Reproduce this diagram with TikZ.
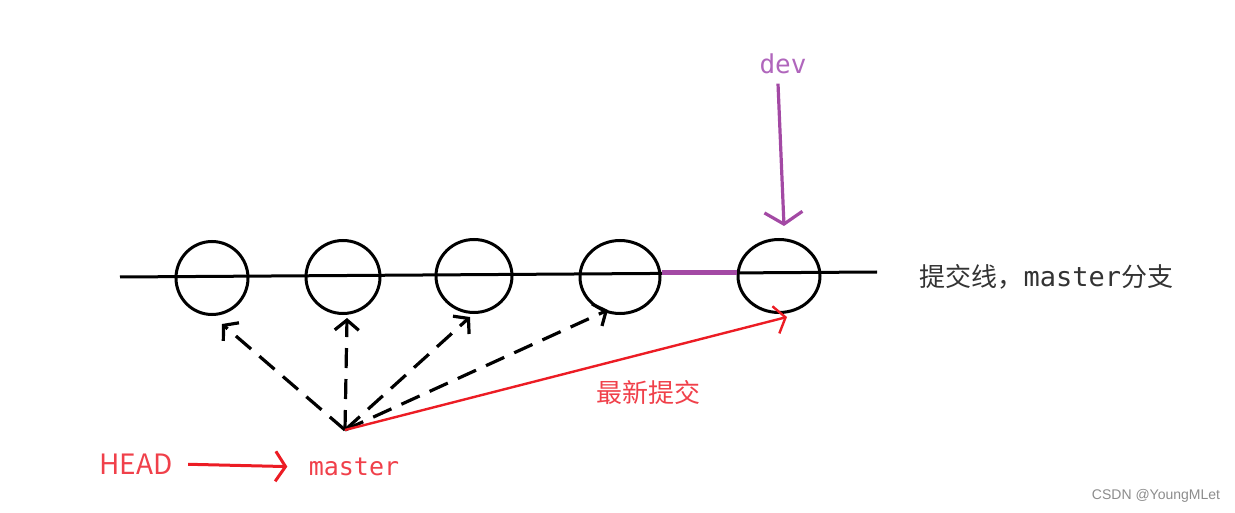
\documentclass[tikz,border=0pt]{standalone}
\usepackage{fontspec}
\setmainfont{Noto Sans CJK SC}
\setmonofont{DejaVu Sans Mono}
\newfontfamily\wmfont{Liberation Sans}
\usetikzlibrary{arrows.meta,shapes.geometric}
\definecolor{inkred}{HTML}{EC1C24}
\definecolor{txtred}{HTML}{F0404A}
\definecolor{devpurple}{HTML}{A349A4}
\definecolor{devtext}{HTML}{B066BC}
\definecolor{darktext}{HTML}{333333}
\begin{document}
\begin{tikzpicture}[x=1pt,y=-1pt,
  commit/.style={ellipse,draw=black,line width=3pt,inner sep=0pt,minimum height=73pt},
  ptr/.style={black,line width=3.2pt,dash pattern=on 20pt off 11pt,-{Straight Barb[length=10pt,width=24pt]}},
  redptr/.style={inkred,line width=2.4pt,-{Straight Barb[length=10pt,width=28pt]}},
  monolbl/.style={font=\ttfamily\fontsize{26}{30}\selectfont},
]
\useasboundingbox (0,0) rectangle (1235,513);
% commit line
\coordinate (lineL) at (120,277);
\coordinate (lineR) at (877,272);
\draw[line width=3pt] (lineL) -- (lineR);
% commits
\node[commit,minimum width=72pt] (c1) at (212,278) {};
\node[commit,minimum width=74pt] (c2) at (343,277) {};
\node[commit,minimum width=76pt] (c3) at (474,276) {};
\node[commit,minimum width=80pt] (c4) at (620,277) {};
\node[commit,minimum width=82pt] (c5) at (779,276) {};
% dev segment
\draw[devpurple,line width=5pt] ([yshift=4pt]c4.east) -- ([yshift=3pt]c5.west);
% dev pointer
\node[monolbl,text=devtext] (dev) at (783,64) {dev};
\coordinate (devtip) at (784,226);
\draw[devpurple,line width=3.2pt,-{Straight Barb[length=12pt,width=38pt]}] ([xshift=-5pt,yshift=-6pt]dev.south) -- (devtip);
% head pointers
\coordinate (apex) at (345,430);
\coordinate (t1) at (222,324);
\coordinate (t2) at (347,318);
\coordinate (t3) at (470,317);
\coordinate (t4) at (608,310);
\coordinate (t5) at (787,317);
\draw[ptr] (apex) -- (t1);
\draw[ptr] (apex) -- (t2);
\draw[ptr] (apex) -- (t3);
\draw[ptr] (apex) -- (t4);
\draw[redptr] (apex) -- (t5);
\node[text=txtred,font=\fontsize{26}{30}\selectfont] (newest) at (648,393) {最新提交};
% HEAD -> master
\node[text=txtred,font=\fontsize{28}{32}\selectfont] (head) at (136,464) {HEAD};
\node[monolbl,text=txtred,font=\ttfamily\fontsize{25}{30}\selectfont] (master) at (354,467) {master};
\draw[inkred,line width=3pt,shorten <=12pt,shorten >=18pt,-{Straight Barb[length=10pt,width=30pt]}] (head.east) -- (master.west);
% line label
\node[text=darktext,anchor=west,font=\fontsize{26}{30}\selectfont] (lbl) at (916,277) {提交线，{\ttfamily\fontsize{27}{30}\selectfont master}分支};
% watermark
\node[text=black!45,font=\wmfont\fontsize{14}{16}\selectfont] (wm) at (1156,496) {CSDN @YoungMLet};
\end{tikzpicture}
\end{document}
